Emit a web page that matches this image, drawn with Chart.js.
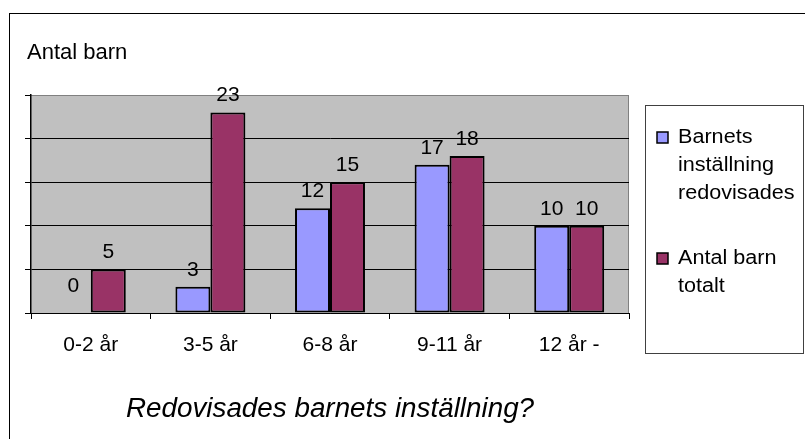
<!DOCTYPE html>
<html>
<head>
<meta charset="utf-8">
<script src="https://cdn.jsdelivr.net/npm/chart.js@4/dist/chart.umd.min.js"></script>
<style>
  html, body { margin: 0; padding: 0; background: #fff; }
  #wrap { width: 805px; height: 439px; }
</style>
</head>
<body>
<div id="wrap"><canvas id="chart" width="805" height="439"></canvas></div>
<script>
const categories = ["0-2 år", "3-5 år", "6-8 år", "9-11 år", "12 år -"];
const redovisade = [0, 3, 12, 17, 10];
const totalt = [5, 23, 15, 18, 10];
const seriesNames = ["Barnets inställning redovisades", "Antal barn totalt"];
const yTitle = "Antal barn";
const chartTitle = "Redovisades barnets inställning?";

const FONT = "'Liberation Sans', Arial, sans-serif";

// text drawn a little wider than tall, like the original
function wideText(ctx, txt, x, y, sx) {
  ctx.save();
  ctx.translate(x, y);
  ctx.scale(sx, 1);
  ctx.fillText(txt, 0, 0);
  ctx.restore();
}

// gray plot area + right/top edge
const plotBg = {
  id: "plotBg",
  beforeDraw(chart) {
    const { ctx, chartArea: a } = chart;
    ctx.save();
    ctx.fillStyle = "#fff";
    ctx.fillRect(0, 0, chart.width, chart.height);
    ctx.strokeStyle = "#000";
    ctx.lineWidth = 1;
    ctx.strokeRect(9.5, 13.5, chart.width + 10, chart.height + 10);
    ctx.fillStyle = "#c0c0c0";
    ctx.fillRect(a.left, a.top, a.right - a.left, a.bottom - a.top);
    ctx.strokeStyle = "#808080";
    ctx.beginPath();
    ctx.moveTo(a.left, a.top + 0.5);
    ctx.lineTo(a.right - 0.5, a.top + 0.5);
    ctx.lineTo(a.right - 0.5, a.bottom);
    ctx.stroke();
    ctx.restore();
  }
};

const extras = {
  id: "extras",
  afterDatasetsDraw(chart) {
    const { ctx, chartArea: a } = chart;
    ctx.save();
    ctx.fillStyle = "#000";
    ctx.font = "21px " + FONT;
    ctx.textAlign = "center";
    ctx.textBaseline = "alphabetic";
    chart.data.datasets.forEach((ds, i) => {
      chart.getDatasetMeta(i).data.forEach((el, j) => {
        const v = ds.data[j];
        ctx.fillText(String(v), el.x, el.y - (v === 0 ? 21 : 11));
      });
    });

    // y title
    ctx.textAlign = "left";
    ctx.font = "22px " + FONT;
    ctx.fillText(yTitle, 27, 59);

    // bottom title
    ctx.textAlign = "center";
    ctx.font = "italic 27px " + FONT;
    wideText(ctx, chartTitle, (a.left + a.right) / 2, 417, 1.03);

    // legend
    const lx = 645, ly = 105, lw = 158, lh = 248;
    ctx.strokeStyle = "#404040";
    ctx.lineWidth = 1;
    ctx.strokeRect(lx + 0.5, ly + 0.5, lw, lh);
    ctx.font = "20px " + FONT;
    ctx.textAlign = "left";
    const lineH = 28;
    let y = 143;
    chart.data.datasets.forEach((ds, i) => {
      const words = ds.label.split(" ");
      const lines = [];
      let cur = "";
      words.forEach(w => {
        const t = cur ? cur + " " + w : w;
        if (cur && ctx.measureText(t).width > 115) {
          lines.push(cur);
          cur = w;
        } else cur = t;
      });
      lines.push(cur);
      ctx.fillStyle = ds.backgroundColor;
      ctx.fillRect(657, y - 11, 11, 11);
      ctx.strokeStyle = "#000";
      ctx.lineWidth = 1.5;
      ctx.strokeRect(657, y - 11, 11, 11);
      ctx.fillStyle = "#000";
      lines.forEach((ln, k) => wideText(ctx, ln, 678, y + k * lineH, 1.08));
      y += lines.length * lineH + 37;
    });
    ctx.restore();
  }
};

new Chart(document.getElementById("chart"), {
  type: "bar",
  data: {
    labels: categories,
    datasets: [
      {
        label: seriesNames[0],
        data: redovisade,
        backgroundColor: "#9999ff",
        borderColor: "#000",
        borderWidth: 2,
        borderSkipped: false
      },
      {
        label: seriesNames[1],
        data: totalt,
        backgroundColor: "#993366",
        borderColor: "#000",
        borderWidth: 2,
        borderSkipped: false
      }
    ]
  },
  options: {
    responsive: false,
    animation: false,
    events: [],
    layout: { padding: { left: 25, top: 95, right: 176, bottom: 0 } },
    datasets: { bar: { categoryPercentage: 0.585, barPercentage: 1 } },
    plugins: {
      legend: { display: false },
      title: { display: false },
      tooltip: { enabled: false }
    },
    scales: {
      x: {
        grid: {
          display: true,
          drawOnChartArea: false,
          drawTicks: true,
          tickLength: 6,
          color: "#000",
          offset: true
        },
        border: { display: true, color: "#000", width: 1 },
        ticks: { color: "#000", font: { family: FONT, size: 21 }, padding: 14, maxRotation: 0 },
        afterFit(s) { s.height = 126; }
      },
      y: {
        min: 0,
        max: 25,
        ticks: { stepSize: 5, display: false },
        grid: {
          color: c => (c.tick && c.tick.value === 25 ? "#808080" : "#000"),
          tickColor: "#000",
          tickLength: 6,
          lineWidth: 1
        },
        border: { display: true, color: "#000", width: 1.5 },
        afterFit(s) { s.width = 6; }
      }
    }
  },
  plugins: [plotBg, extras]
});
</script>
</body>
</html>
